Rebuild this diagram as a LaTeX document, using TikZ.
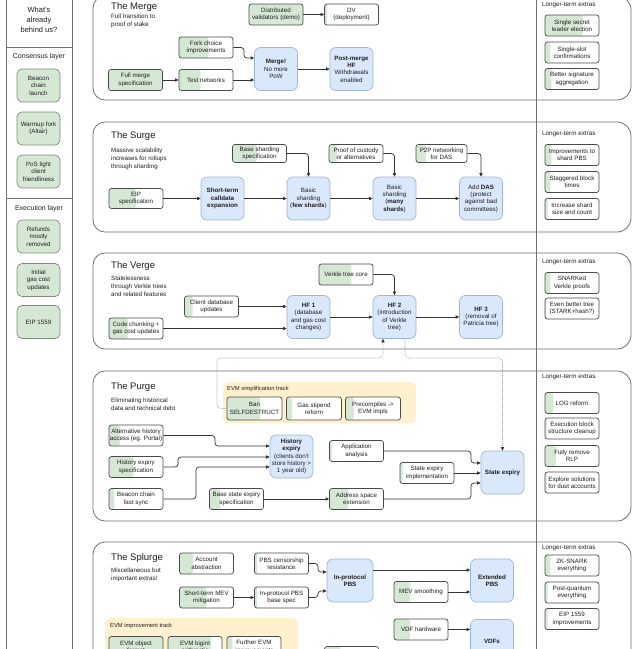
\documentclass[tikz,border=0pt]{standalone}
\usepackage{fontspec}
\setmainfont{Liberation Sans}
\usetikzlibrary{arrows.meta,calc}
\definecolor{gfill}{HTML}{D5E8D4}
\definecolor{bfill}{HTML}{DAE8FC}
\definecolor{bborder}{HTML}{9DB5D8}
\definecolor{yfill}{HTML}{FFF1CE}
\definecolor{pborder}{HTML}{4A4A4A}
\definecolor{lborder}{HTML}{7E8C7B}
\definecolor{secline}{HTML}{707070}
\definecolor{conn}{HTML}{333333}
\definecolor{txt}{HTML}{1E1E1E}
\begin{document}
\begin{tikzpicture}[x=1pt,y=-1pt,
  base/.style={font=\fontsize{6.2}{7.4}\selectfont, text=txt, align=center, inner sep=0.8pt},
  pbox/.style={base, draw=pborder, line width=0.7pt, rounded corners=2.5pt, minimum width=54pt, minimum height=21pt, fill=white},
  prog/.style={pbox, path picture={\fill[gfill] (path picture bounding box.south west) rectangle ($(path picture bounding box.north west)!#1!(path picture bounding box.north east)$);}},
  bbox/.style={base, draw=bborder, fill=bfill, line width=0.7pt, rounded corners=6pt, minimum width=43pt, minimum height=43pt},
  lbox/.style={base, draw=lborder, fill=gfill, line width=0.7pt, rounded corners=5pt, minimum width=43pt, minimum height=33pt},
  arr/.style={draw=conn, line width=0.7pt, -{Triangle[length=3.5pt,width=3.2pt]}, rounded corners=3pt},
  dotarr/.style={draw=gray!75, line width=0.6pt, dash pattern=on 1pt off 1pt, -{Triangle[length=3.5pt,width=3.2pt,color=conn,fill=conn]}, rounded corners=4pt},
  sectitle/.style={font=\fontsize{9.5}{11}\selectfont, text=txt, anchor=base west, inner sep=0},
  secsub/.style={font=\fontsize{6.2}{8}\selectfont, text=txt, anchor=north west, align=left, inner sep=0},
  extlbl/.style={font=\fontsize{6.3}{8}\selectfont, text=txt, anchor=base west, inner sep=0},
  trklbl/.style={font=\fontsize{5.8}{7}\selectfont, text=txt, anchor=west, inner sep=0},
  colhead/.style={font=\fontsize{7.5}{9.8}\selectfont, text=txt, align=center, inner sep=0},
  frame/.style={draw=secline, line width=0.8pt}
]
\useasboundingbox (0,0) rectangle (640,649);
\clip (0,0) rectangle (640,649);
\fill[white] (0,0) rectangle (640,649);

% ---------- left column ----------
\draw[frame] (6,-5) -- (6,660) (72,-5) -- (72,660) (6,47) -- (72,47) (6,198) -- (72,198);
\node[colhead] (behind) at (39,20) {What's\\already\\behind us?};
\node[colhead, font=\fontsize{7}{9}\selectfont] (conslayer) at (39,57) {Consensus layer};
\node[colhead, font=\fontsize{7}{9}\selectfont] (execlayer) at (39,209) {Execution layer};
\node[lbox] (bcl) at (38.5,85.5) {Beacon\\chain\\launch};
\node[lbox] (warm) at (38.5,128.5) {Warmup fork\\(Altair)};
\node[lbox] (posl) at (38.5,171.5) {PoS light\\client\\friendliness};
\node[lbox] (refunds) at (38.5,236.5) {Refunds\\mostly\\removed};
\node[lbox] (igcu) at (38.5,280) {Initial\\gas cost\\updates};
\node[lbox] (eipfifteen) at (38.5,322) {EIP 1559};

% ---------- section frames ----------
\foreach \t/\b in {-4/100, 122/232, 253/349, 371/521, 542/700} {
  \draw[frame, rounded corners=12pt] (536,\t) -- (93,\t) -- (93,\b) -- (536,\b);
  \draw[frame, rounded corners=14pt] (536,\t) -- (631,\t) -- (631,\b) -- (536,\b);
}
\draw[frame] (536,-5) -- (536,660);

% titles
\node[sectitle] (tmerge) at (111,9.5) {The Merge};
\node[secsub] (smerge) at (111,14) {Full transition to\\proof of stake};
\node[sectitle] (tsurge) at (111,138.5) {The Surge};
\node[secsub] (ssurge) at (111,148) {Massive scalability\\increases for rollups\\through sharding};
\node[sectitle] (tverge) at (111,268.5) {The Verge};
\node[secsub] (sverge) at (111,276) {Statelessness\\through Verkle trees\\and related features};
\node[sectitle] (tpurge) at (111,389.5) {The Purge};
\node[secsub] (spurge) at (111,398) {Eliminating historical\\data and technical debt};
\node[sectitle] (tsplurge) at (111,560.5) {The Splurge};
\node[secsub] (ssplurge) at (111,568) {Miscellaneous but\\important extras!};

\node[extlbl] (emerge) at (542,6) {Longer-term extras};
\node[extlbl] (esurge) at (542,135) {Longer-term extras};
\node[extlbl] (everge) at (542,263) {Longer-term extras};
\node[extlbl] (epurge) at (542,378) {Longer-term extras};
\node[extlbl] (esplurge) at (542,549) {Longer-term extras};

% ---------- The Merge ----------
\node[prog=1] (dist) at (276,14.5) {Distributed\\validators (demo)};
\node[prog=0.05] (dv) at (351.5,14.5) {DV\\(deployment)};
\node[prog=0.55] (fork) at (206,47.5) {Fork choice\\improvements};
\node[prog=1] (fullmerge) at (135.5,80) {Full merge\\specification};
\node[prog=0.4] (testnet) at (206,80) {Test networks};
\node[bbox] (merge) at (276,69) {\textbf{Merge!}\\No more\\PoW};
\node[bbox] (postmerge) at (351.5,69) {\textbf{Post-merge}\\\textbf{HF}\\Withdrawals\\enabled};
\draw[arr] (dist) -- (dv);
\draw[arr] (fullmerge) -- (testnet);
\draw[arr] (testnet) -- (testnet -| merge.west);
\draw[arr] (fork.east) -- (244,47.5) |- (merge.west |- 0,58);
\draw[arr] (merge) -- (postmerge);

\node[prog=0.7] (ssle) at (572,25.5) {Single secret\\leader election};
\node[prog=0.1] (ssc) at (572,52.5) {Single-slot\\confirmations};
\node[prog=0.12] (bsa) at (572,79) {Better signature\\aggregation};

% ---------- The Surge ----------
\node[prog=0.45, minimum height=18pt] (basesh) at (259.5,153.5) {Base sharding\\specification};
\node[prog=0.15, minimum height=18pt] (poc) at (356,153.5) {Proof of custody\\or alternatives};
\node[prog=0.2, minimum height=18pt, minimum width=51pt] (ptwop) at (441.5,153.5) {P2P networking\\for DAS};
\node[prog=0.5, minimum height=20pt] (eipspec) at (136,198.5) {EIP\\specification};
\node[bbox] (stcd) at (222.5,198.5) {\textbf{Short-term}\\\textbf{calldata}\\\textbf{expansion}};
\node[bbox] (bfew) at (308.5,198.5) {Basic\\sharding\\(\textbf{few shards})};
\node[bbox] (bmany) at (394.5,198.5) {Basic\\sharding\\(\textbf{many}\\\textbf{shards})};
\node[bbox] (das) at (481,198.5) {Add \textbf{DAS}\\(protect\\against bad\\committees)};
\draw[arr] (eipspec) -- (stcd);
\draw[arr] (stcd) -- (bfew);
\draw[arr] (bfew) -- (bmany);
\draw[arr] (bmany) -- (das);
\draw[arr] (basesh.east) -| (bfew.north);
\draw[arr] (poc.east) -| (bmany.north);
\draw[arr] (ptwop.east) -| (das.north);

\node[prog=0.12] (ishpbs) at (572,155) {Improvements to\\shard PBS};
\node[prog=0.1] (sbt) at (572,182) {Staggered block\\times};
\node[prog=0.05] (issc) at (572,209) {Increase shard\\size and count};

% ---------- The Verge ----------
\node[prog=0.6] (vtc) at (346,274.5) {Verkle tree core};
\node[prog=0.15] (cdb) at (211.5,306.5) {Client database\\updates};
\node[prog=0.35] (codech) at (136,328.5) {Code chunking +\\gas cost updates};
\node[bbox] (hfone) at (308.5,317) {\textbf{HF 1}\\(database\\and gas cost\\changes)};
\node[bbox] (hftwo) at (394.5,317) {\textbf{HF 2}\\(introduction\\of Verkle\\tree)};
\node[bbox] (hfthree) at (481,317) {\textbf{HF 3}\\(removal of\\Patricia tree)};
\draw[arr] (cdb) -- (cdb -| hfone.west);
\draw[arr] (codech) -- (codech -| hfone.west);
\draw[arr] (hfone) -- (hftwo);
\draw[arr] (hftwo) -- (hfthree);
\draw[arr] (vtc.east) -| (hftwo.north);

\node[prog=0.1] (snk) at (572,283) {SNARKed\\Verkle proofs};
\node[prog=0.02] (ebt) at (572,308.5) {Even better tree\\(STARK+hash?)};

% ---------- The Purge ----------
\fill[yfill, rounded corners=5pt] (223,382) rectangle (416,423);
\node[trklbl] (evmsimp) at (227,389) {EVM simplification track};
\node[prog=0.6, minimum width=55pt, minimum height=23pt] (ban) at (254.5,408.5) {Ban\\SELFDESTRUCT};
\node[prog=0.1, minimum width=55pt, minimum height=23pt] (gasst) at (314,408.5) {Gas stipend\\reform};
\node[prog=0.15, minimum width=55pt, minimum height=23pt] (precomp) at (373,408.5) {Precompiles ->\\EVM impls};

\node[prog=0.2] (althist) at (136,435.5) {Alternative history\\access (eg. Portal)};
\node[prog=0.45] (hexspec) at (136,467) {History expiry\\specification};
\node[prog=0.1] (beaconfs) at (136,499) {Beacon chain\\fast sync};
\node[bbox] (hexp) at (291.5,456.5) {\textbf{History}\\\textbf{expiry}\\(clients don't\\store history >\\1 year old)};
\node[prog=0.2] (basese) at (236.5,499) {Base state expiry\\specification};
\node[prog=0.05] (appanal) at (356.5,451) {Application\\analysis};
\node[prog=0.05] (seimpl) at (427,473) {State expiry\\implementation};
\node[prog=0.35] (addrse) at (356.5,499) {Address space\\extension};
\node[bbox] (stexp) at (502.5,472.5) {\textbf{State expiry}};

\draw[arr] (althist.east) -- (215,435.5) |- (hexp.west |- 0,446);
\draw[arr] (hexspec.east) -- (178,467) |- (hexp.west |- 0,457);
\draw[arr] (beaconfs.east) -- (196,499) |- (hexp.west |- 0,467);
\draw[arr] (basese) -- (addrse);
\draw[arr] (appanal.east) -- (471,451) |- (stexp.west |- 0,463);
\draw[arr] (seimpl) -- (seimpl -| stexp.west);
\draw[arr] (addrse.east) -- (471,499) |- (stexp.west |- 0,483);
\draw[dotarr] (ban.west) -- (217,408.5) -- (217,358) -- (383,358) -- (hftwo.south -| 383,0);
\draw[dotarr] (hftwo.south -| 405,0) -- (405,358) -- (502.5,358) -- (stexp.north);

\node[prog=0.15] (logref) at (572,403) {LOG reform};
\node[prog=0.03] (ebsc) at (572,428.5) {Execution block\\structure cleanup};
\node[prog=0.2] (frlp) at (572,456) {Fully remove\\RLP};
\node[prog=0.03] (dust) at (572,482.5) {Explore solutions\\for dust accounts};

% ---------- The Splurge ----------
\fill[yfill, rounded corners=5pt] (105,618) rectangle (298,700);
\node[trklbl] (evmimp) at (110,626) {EVM improvement track};
\node[prog=1] (eof) at (136,647) {EVM object\\format};
\node[prog=0.8] (bigint) at (195,647) {EVM bigint\\arithmetic};
\node[prog=0.1] (furtherevm) at (254,647) {Further EVM\\improvements};

\node[prog=0.25] (aa) at (206.5,563.5) {Account\\abstraction};
\node[prog=0.05] (pbscr) at (281.5,563.5) {PBS censorship\\resistance};
\node[prog=0.5] (stmev) at (206.5,597.5) {Short-term MEV\\mitigation};
\node[prog=0.05] (ippbsbase) at (281.5,597.5) {In-protocol PBS\\base spec};
\node[bbox, minimum width=46pt] (ippbs) at (350,580.5) {\textbf{In-protocol}\\\textbf{PBS}};
\node[prog=0.3] (mevs) at (421,592) {MEV smoothing};
\node[bbox] (extpbs) at (492,580.5) {\textbf{Extended}\\\textbf{PBS}};
\node[prog=0.3] (vdfhw) at (421,629.5) {VDF hardware};
\node[bbox] (vdfs) at (492,641) {\textbf{VDFs}};
\node[prog=0.3] (vdfspec) at (351.5,657) {VDF spec};
\draw[arr] (stmev) -- (ippbsbase);
\draw[arr] (pbscr.east) -- (318,563.5) |- (ippbs.west |- 0,572);
\draw[arr] (ippbsbase.east) -- (318,597.5) |- (ippbs.west |- 0,591);
\draw[arr] (ippbs.east |- 0,570) -- (extpbs.west |- 0,570);
\draw[arr] (mevs) -- (mevs -| extpbs.west);
\draw[arr] (vdfhw) -- (vdfhw -| vdfs.west);
\draw[arr] (vdfspec) -- (vdfspec -| vdfs.west);

\node[prog=0.1] (zks) at (572,565.5) {ZK-SNARK\\everything};
\node[prog=0.05] (pqe) at (572,592.5) {Post-quantum\\everything};
\node[prog=0.05] (eipimpr) at (572,619) {EIP 1559\\improvements};
\end{tikzpicture}
\end{document}
